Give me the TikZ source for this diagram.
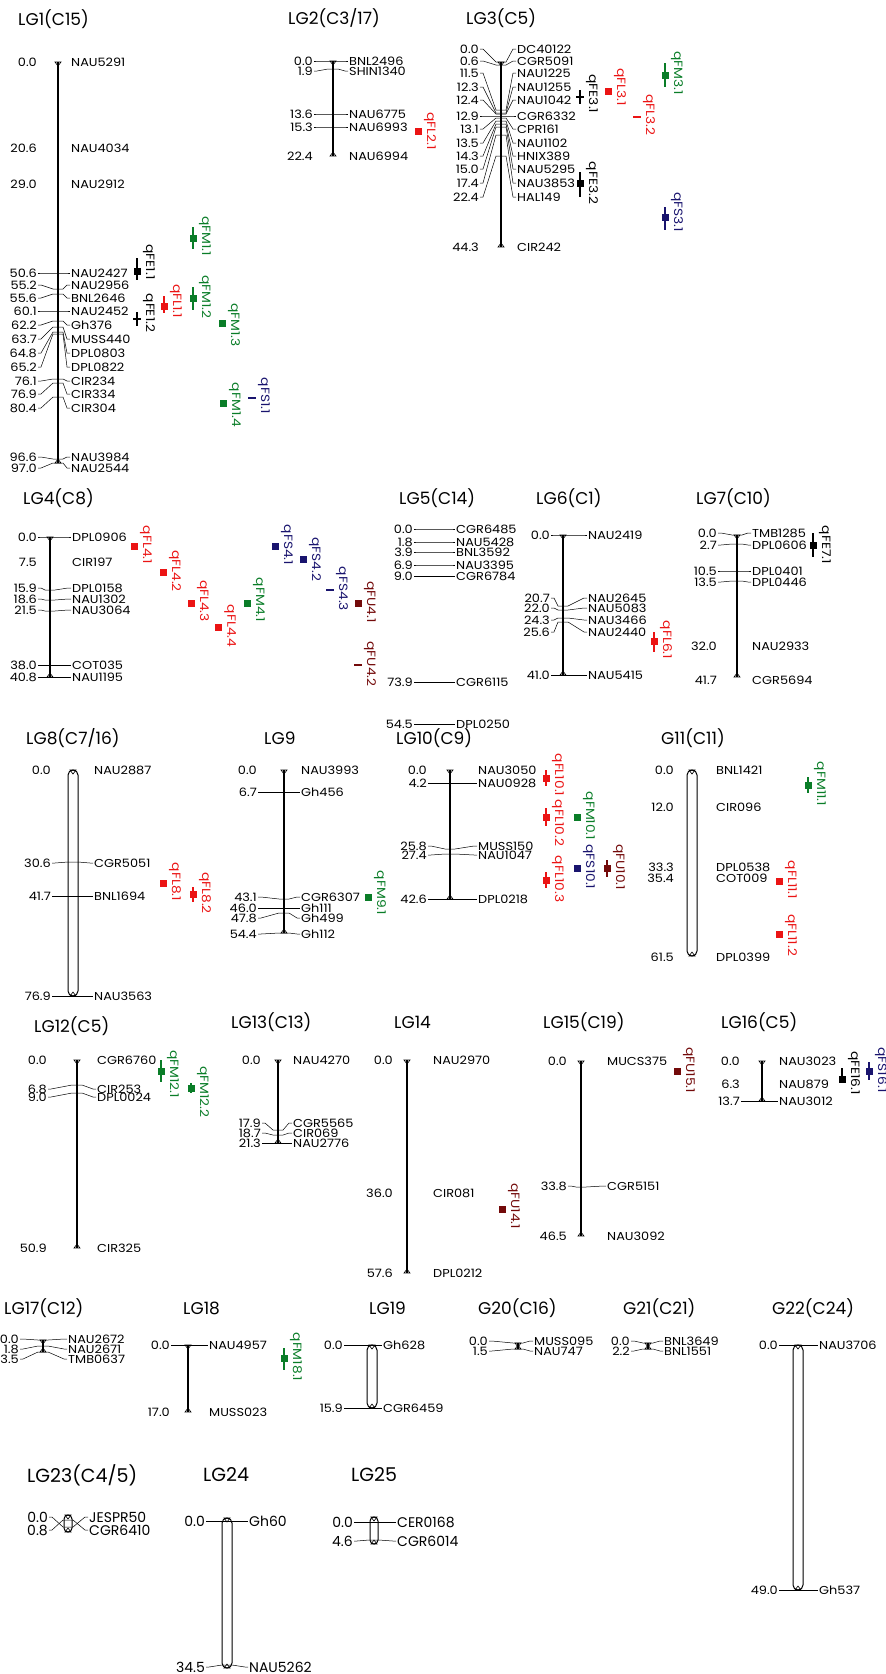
\documentclass[tikz,border=0pt]{standalone}
\usepackage{fontspec}
\setmainfont{Poppins}
\newfontfamily\mkfont[FakeStretch=1.12]{Poppins}
\newfontfamily\qfont[FakeStretch=1.15]{Poppins}
\definecolor{qred}{RGB}{235,20,20}
\definecolor{qgreen}{RGB}{10,125,40}
\definecolor{qblue}{RGB}{25,20,110}
\definecolor{qdark}{RGB}{115,10,10}
% single line and double line linkage groups
\newcommand\chrom[3]{%
  \draw[chrom] (#1,#2) -- (#1,#3);
  \draw[endmk] (#1-3,#2) -- (#1+3,#2) -- (#1,#2+4) -- cycle
               (#1-3,#3) -- (#1+3,#3) -- (#1,#3-4) -- cycle;}
\newcommand\chromd[4]{%
  \draw[chrom2, rounded corners=#4] (#1-#4,#2) rectangle (#1+#4,#3);
  \draw[endmk] (#1-3,#2) -- (#1+3,#2) -- (#1,#2+4) -- cycle
               (#1-3,#3) -- (#1+3,#3) -- (#1,#3-4) -- cycle;}
% id, chromosome x, position x, marker x, list tick/label/cM/marker/style
\newcommand\markers[5]{%
  \foreach \ty/\ly/\p/\m/\s [count=\i] in {#5} {
    \node[cmpos] (#1p\i) at (#3,\ly) {\p};
    \node[mk] (#1m\i) at (#4,\ly) {\m};
    \path[\s] (#1p\i.east) -- ++(3,0) -- (#2-5,\ty) -- (#2+5,\ty)
      -- ([xshift=-3pt]#1m\i.west) -- (#1m\i.west);
  }}
% qtl: name, colour, x, top, peak, bottom, label, label y
\newcommand\qtl[8]{%
  \draw[qline, #2] (#3,#4) -- (#3,#6);
  \fill[#2] (#3-3.5,#5-3.5) rectangle (#3+3.5,#5+3.5);
  \node[qlab, text=#2] (#1) at (#3+12,#8) {#7};}
\newcommand\qbar[6]{%
  \fill[#2] (#3-4,#4-1.3) rectangle (#3+4,#4+1.3);
  \node[qlab, text=#2] (#1) at (#3+12,#6) {#5};}
\newcommand\qcross[7]{%
  \draw[qline, #2] (#3,#4) -- (#3,#5);
  \fill[#2] (#3-4,#4/2+#5/2-1.3) rectangle (#3+4,#4/2+#5/2+1.3);
  \node[qlab, text=#2] (#1) at (#3+12,#7) {#6};}

\begin{document}
\begin{tikzpicture}[
  x=1pt, y=-1pt,
  every node/.style={inner sep=1pt},
  ttl/.style={anchor=west, font=\fontsize{17}{17}\selectfont},
  cmpos/.style={anchor=east, font=\mkfont\fontsize{11.5}{11.5}\selectfont},
  mk/.style={anchor=west, font=\mkfont\fontsize{11.5}{11.5}\selectfont},
  qlab/.style={rotate=-90, font=\qfont\fontsize{12}{12}\selectfont},
  k1/.style={draw, line width=0.5pt},
  k0/.style={},
  chrom/.style={line width=1.3pt},
  chrom2/.style={line width=1pt, fill=white},
  endmk/.style={line width=0.6pt},
  qline/.style={line width=1.3pt},
  big/.style={cmpos/.style={anchor=east, font=\fontsize{14}{14}\selectfont},
    mk/.style={anchor=west, font=\fontsize{14}{14}\selectfont},
    ttl/.style={anchor=west, font=\fontsize{19}{19}\selectfont}}
]
\useasboundingbox (0,0) rectangle (886,1674);

% row 1
\node[ttl] (t1) at (17,19) {LG1(C15)};
\chrom{58}{62}{463}
\markers{a}{58}{38}{70}{62/62/0.0/NAU5291/k0, 148/148/20.6/NAU4034/k0,
  183/184/29.0/NAU2912/k0, 273/273/50.6/NAU2427/k1, 289/285/55.2/NAU2956/k1,
  294/298/55.6/BNL2646/k1, 311/311/60.1/NAU2452/k1, 321/325/62.2/Gh376/k1,
  327/339/63.7/MUSS440/k1, 332/353/64.8/DPL0803/k1, 334/367/65.2/DPL0822/k1,
  379/381/76.1/CIR234/k1, 383/394/76.9/CIR334/k1, 397/408/80.4/CIR304/k1,
  459/457/96.6/NAU3984/k1, 463/468/97.0/NAU2544/k1}
\qtl{qe11}{black}{137}{258}{271}{280}{qFE1.1}{262}
\qcross{qe12}{black}{137}{312}{326}{qFE1.2}{313}
\qtl{ql11}{qred}{164}{296}{306}{313}{qFL1.1}{301}
\qtl{qm11}{qgreen}{193}{227}{238}{249}{qFM1.1}{236}
\qtl{qm12}{qgreen}{193}{287}{298}{310}{qFM1.2}{297}
\qtl{qm13}{qgreen}{222}{323}{323}{323}{qFM1.3}{325}
\qtl{qm14}{qgreen}{223}{403}{403}{403}{qFM1.4}{405}
\qbar{qs11}{qblue}{252}{398}{qFS1.1}{396}

\node[ttl] (t2) at (287,18) {LG2(C3/17)};
\chrom{333}{61}{156}
\markers{b}{333}{314}{348}{61/61/0.0/BNL2496/k1, 69/71/1.9/SHIN1340/k1,
  114/114/13.6/NAU6775/k1, 127/127/15.3/NAU6993/k1, 156/156/22.4/NAU6994/k0}
\qtl{ql21}{qred}{418}{131}{131}{131}{qFL2.1}{131}

\node[ttl] (t3) at (465,18) {LG3(C5)};
\chrom{501}{62}{247}
\markers{c}{501}{480}{516}{62/49/0.0/DC40122/k1, 65/61/0.6/CGR5091/k1,
  110/73/11.5/NAU1225/k1, 113/87/12.3/NAU1255/k1, 114/100/12.4/NAU1042/k1,
  116/116/12.9/CGR6332/k1, 118/129/13.1/CPR161/k1, 121/143/13.5/NAU1102/k1,
  124/156/14.3/HNIX389/k1, 127/169/15.0/NAU5295/k1, 135/183/17.4/NAU3853/k1,
  156/197/22.4/HAL149/k1, 247/247/44.3/CIR242/k0}
\qcross{qe31}{black}{580}{90}{104}{qFE3.1}{94}
\qtl{qe32}{black}{580}{172}{183}{197}{qFE3.2}{183}
\qtl{ql31}{qred}{608}{91}{91}{91}{qFL3.1}{87}
\qbar{ql32}{qred}{637}{117}{qFL3.2}{115}
\qtl{qm31}{qgreen}{665}{63}{75}{87}{qFM3.1}{73}
\qtl{qs31}{qblue}{665}{207}{217}{230}{qFS3.1}{212}

% row 2
\node[ttl] (t4) at (22,498) {LG4(C8)};
\chrom{50}{537}{677}
\markers{d}{50}{38}{71}{537/537/0.0/DPL0906/k1, 563/562/7.5/CIR197/k0,
  590/588/15.9/DPL0158/k1, 600/599/18.6/NAU1302/k1, 611/610/21.5/NAU3064/k1,
  665/665/38.0/COT035/k1, 677/677/40.8/NAU1195/k1}
\qtl{ql41}{qred}{134}{546}{546}{546}{qFL4.1}{545}
\qtl{ql42}{qred}{163}{572}{572}{572}{qFL4.2}{571}
\qtl{ql43}{qred}{191}{603}{603}{603}{qFL4.3}{601}
\qtl{ql44}{qred}{218}{627}{627}{627}{qFL4.4}{626}
\qtl{qm41}{qgreen}{247}{603}{603}{603}{qFM4.1}{600}
\qtl{qs41}{qblue}{275}{546}{546}{546}{qFS4.1}{545}
\qtl{qs42}{qblue}{303}{559}{559}{559}{qFS4.2}{559}
\qbar{qs43}{qblue}{330}{590}{qFS4.3}{589}
\qtl{qu41}{qdark}{358}{603}{603}{603}{qFU4.1}{602}
\qbar{qu42}{qdark}{358}{665}{qFU4.2}{664}

\node[ttl] (t5) at (398,498) {LG5(C14)};
\markers{e}{433}{414}{455}{529/529/0.0/CGR6485/k1, 542/542/1.8/NAU5428/k1,
  552/552/3.9/BNL3592/k1, 565/565/6.9/NAU3395/k1, 576/576/9.0/CGR6784/k1,
  682/682/73.9/CGR6115/k1, 724/724/54.5/DPL0250/k1}

\node[ttl] (t6) at (535,498) {LG6(C1)};
\chrom{563}{535}{675}
\markers{f}{563}{551}{587}{535/535/0.0/NAU2419/k1, 606/598/20.7/NAU2645/k1,
  610/608/22.0/NAU5083/k1, 618/620/24.3/NAU3466/k1, 622/632/25.6/NAU2440/k1,
  675/675/41.0/NAU5415/k1}
\qtl{ql61}{qred}{654}{632}{641}{652}{qFL6.1}{640}

\node[ttl] (t7) at (695,498) {LG7(C10)};
\chrom{737}{535}{677}
\markers{g}{737}{718}{751}{535/533/0.0/TMB1285/k1, 544/545/2.7/DPL0606/k1,
  571/571/10.5/DPL0401/k1, 581/582/13.5/DPL0446/k1, 644/646/32.0/NAU2933/k0,
  677/680/41.7/CGR5694/k0}
\qtl{qe71}{black}{813}{533}{545}{557}{qFE7.1}{545}

% row 3
\node[ttl] (t8) at (25,738) {LG8(C7/16)};
\chromd{73}{770}{996}{5}
\markers{h}{73}{52}{93}{770/770/0.0/NAU2887/k0, 862/863/30.6/CGR5051/k1,
  896/896/41.7/BNL1694/k1, 996/996/76.9/NAU3563/k1}
\qtl{ql81}{qred}{163}{883}{883}{883}{qFL8.1}{882}
\qtl{ql82}{qred}{193}{887}{894}{902}{qFL8.2}{893}

\node[ttl] (t9) at (263,738) {LG9};
\chrom{284}{770}{933}
\markers{i}{284}{258}{300}{770/770/0.0/NAU3993/k0, 792/792/6.7/Gh456/k1,
  899/897/43.1/CGR6307/k1, 908/908/46.0/Gh111/k1, 913/918/47.8/Gh499/k1,
  933/934/54.4/Gh112/k1}
\qtl{qm91}{qgreen}{368}{897}{897}{897}{qFM9.1}{893}

\node[ttl] (t10) at (395,738) {LG10(C9)};
\chrom{450}{770}{899}
\markers{j}{450}{428}{477}{770/770/0.0/NAU3050/k0, 783/783/4.2/NAU0928/k1,
  849/846/25.8/MUSS150/k1, 854/855/27.4/NAU1047/k1, 899/899/42.6/DPL0218/k1}
\qtl{ql101}{qred}{546}{770}{778}{786}{qFL10.1}{775}
\qtl{ql102}{qred}{546}{808}{817}{826}{qFL10.2}{823}
\qtl{qm101}{qgreen}{577}{817}{817}{817}{qFM10.1}{816}
\qtl{ql103}{qred}{546}{872}{880}{888}{qFL10.3}{879}
\qtl{qs101}{qblue}{577}{868}{868}{868}{qFS10.1}{867}
\qtl{qu101}{qdark}{607}{860}{868}{877}{qFU10.1}{867}

\node[ttl] (t11) at (660,738) {G11(C11)};
\chromd{692}{770}{956}{5}
\markers{k}{692}{675}{715}{770/770/0.0/BNL1421/k0, 806/807/12.0/CIR096/k0,
  870/867/33.3/DPL0538/k0, 877/878/35.4/COT009/k0, 956/957/61.5/DPL0399/k0}
\qtl{qm111}{qgreen}{808}{777}{785}{793}{qFM11.1}{784}
\qtl{ql111}{qred}{779}{881}{881}{881}{qFL11.1}{880}
\qtl{ql112}{qred}{779}{934}{934}{934}{qFL11.2}{935}

% row 4
\node[ttl] (t12) at (33,1026) {LG12(C5)};
\chrom{77}{1060}{1248}
\markers{l}{77}{48}{96}{1060/1060/0.0/CGR6760/k0, 1085/1089/6.8/CIR253/k1,
  1093/1097/9.0/DPL0024/k1, 1248/1248/50.9/CIR325/k0}
\qtl{qm121}{qgreen}{161}{1060}{1071}{1082}{qFM12.1}{1074}
\qtl{qm122}{qgreen}{191}{1083}{1088}{1093}{qFM12.2}{1092}

\node[ttl] (t13) at (230,1022) {LG13(C13)};
\chrom{278}{1060}{1143}
\markers{m}{278}{262}{292}{1060/1060/0.0/NAU4270/k0, 1130/1123/17.9/CGR5565/k1,
  1135/1133/18.7/CIR069/k1, 1143/1143/21.3/NAU2776/k1}

\node[ttl] (t14) at (393,1022) {LG14};
\chrom{407}{1060}{1273}
\markers{n}{407}{394}{432}{1060/1060/0.0/NAU2970/k0, 1193/1193/36.0/CIR081/k0,
  1273/1273/57.6/DPL0212/k0}
\qtl{qu141}{qdark}{502}{1209}{1209}{1209}{qFU14.1}{1206}

\node[ttl] (t15) at (542,1022) {LG15(C19)};
\chrom{581}{1061}{1236}
\markers{o}{581}{568}{606}{1061/1061/0.0/MUCS375/k0, 1187/1186/33.8/CGR5151/k1,
  1236/1236/46.5/NAU3092/k0}
\qtl{qu151}{qdark}{677}{1071}{1071}{1071}{qFU15.1}{1070}

\node[ttl] (t16) at (720,1022) {LG16(C5)};
\chrom{762}{1061}{1101}
\markers{p}{762}{741}{778}{1061/1061/0.0/NAU3023/k0, 1084/1084/6.3/NAU879/k0,
  1101/1101/13.7/NAU3012/k1}
\qtl{qe161}{black}{842}{1068}{1079}{1083}{qFE16.1}{1073}
\qtl{qs161}{qblue}{869}{1062}{1071}{1080}{qFS16.1}{1070}

% row 5
\node[ttl] (t17) at (3,1308) {LG17(C12)};
\chrom{43}{1340}{1352}
\markers{q}{43}{20}{67}{1340/1339/0.0/NAU2672/k1, 1346/1349/1.8/NAU2671/k1,
  1352/1359/3.5/TMB0637/k1}

\node[ttl] (t18) at (182,1308) {LG18};
\chrom{188}{1345}{1412}
\markers{r}{188}{171}{208}{1345/1345/0.0/NAU4957/k1, 1412/1412/17.0/MUSS023/k0}
\qtl{qm181}{qgreen}{284}{1348}{1358}{1370}{qFM18.1}{1357}

\node[ttl] (t19) at (368,1308) {LG19};
\chromd{372}{1345}{1408}{5}
\markers{s}{372}{344}{382}{1345/1345/0.0/Gh628/k1, 1408/1408/15.9/CGR6459/k1}

\node[ttl] (t20) at (477,1308) {G20(C16)};
\chrom{518}{1343}{1349}
\markers{u}{518}{489}{533}{1343/1341/0.0/MUSS095/k1, 1349/1351/1.5/NAU747/k1}

\node[ttl] (t21) at (622,1308) {G21(C21)};
\chrom{648}{1343}{1349}
\markers{v}{648}{631}{663}{1343/1341/0.0/BNL3649/k1, 1349/1351/2.2/BNL1551/k1}

\node[ttl] (t22) at (771,1308) {G22(C24)};
\chromd{798}{1345}{1590}{5}
\markers{w}{798}{779}{818}{1345/1345/0.0/NAU3706/k1, 1590/1590/49.0/Gh537/k1}

% row 6
\begin{scope}[big]
\node[ttl] (t23) at (26,1475) {LG23(C4/5)};
\chromd{68}{1515}{1532}{4}
\markers{x}{68}{49}{88}{1527/1517/0.0/JESPR50/k1, 1520/1530/0.8/CGR6410/k1}

\node[ttl] (t24) at (202,1475) {LG24};
\chromd{227}{1518}{1668}{5}
\markers{y}{227}{206}{248}{1521/1521/0.0/Gh60/k1, 1665/1667/34.5/NAU5262/k1}

\node[ttl] (t25) at (350,1475) {LG25};
\chromd{374}{1517}{1544}{4}
\markers{z}{374}{354}{396}{1522/1522/0.0/CER0168/k1, 1540/1541/4.6/CGR6014/k1}
\end{scope}
\end{tikzpicture}
\end{document}
